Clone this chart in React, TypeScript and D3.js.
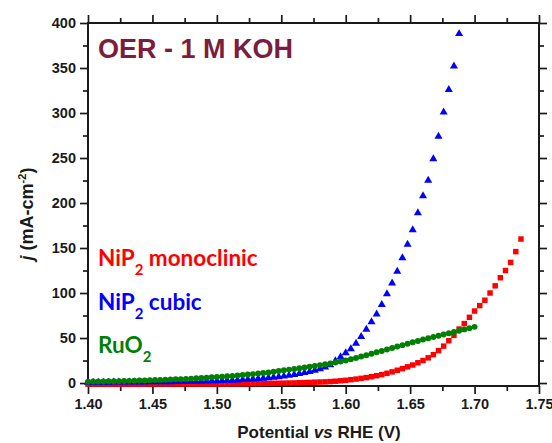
import { useEffect, useRef } from 'react';
import * as d3 from 'd3';

// potential grid (V vs RHE), shared by the three curves
const potential = [
  1.400, 1.404, 1.408, 1.412, 1.416, 1.420, 1.424, 1.428, 1.432, 1.436,
  1.440, 1.444, 1.448, 1.452, 1.456, 1.460, 1.464, 1.468, 1.472, 1.476,
  1.480, 1.484, 1.488, 1.492, 1.496, 1.500, 1.504, 1.508, 1.512, 1.516,
  1.520, 1.524, 1.528, 1.532, 1.536, 1.540, 1.544, 1.548, 1.552, 1.556,
  1.560, 1.564, 1.568, 1.572, 1.576, 1.580, 1.584, 1.588, 1.592, 1.596,
  1.600, 1.604, 1.608, 1.612, 1.616, 1.620, 1.624, 1.628, 1.632, 1.636,
  1.640, 1.644, 1.648, 1.652, 1.656, 1.660, 1.664, 1.668, 1.672, 1.676,
  1.680, 1.684, 1.688, 1.692, 1.696, 1.700, 1.704, 1.708, 1.712, 1.716,
  1.720, 1.724, 1.728, 1.732, 1.736,
];

// current density, mA cm-2
const jMonoclinic = [
  -1.2, -1.2, -1.2, -1.2, -1.2, -1.2, -1.2, -1.2, -1.2, -1.2,
  -1.2, -1.1, -1.1, -1.1, -1.1, -1.1, -1.1, -1.1, -1.1, -1.1,
  -1.1, -1.1, -1.1, -1.1, -1.1, -1.1, -1.0, -1.0, -0.9, -0.9,
  -0.8, -0.8, -0.7, -0.6, -0.5, -0.4, -0.3, -0.2, -0.1, 0.0,
  0.1, 0.3, 0.5, 0.7, 0.9, 1.1, 1.3, 1.6, 2.0, 2.5,
  3.0, 3.7, 4.4, 5.2, 6.0, 7.0, 8.1, 9.3, 10.8, 12.4,
  14.2, 16.0, 18.0, 20.0, 22.5, 25.0, 28.0, 31.5, 36.0, 41.0,
  47.0, 53.0, 60.0, 66.0, 73.0, 80.0, 86.0, 92.0, 100.0, 108.0,
  117.0, 125.0, 134.0, 146.0, 160.0,
];

const jCubic = [
  0.8, 0.8, 0.8, 0.8, 0.8, 0.9, 0.9, 0.9, 0.9, 1.0,
  1.0, 1.0, 1.1, 1.1, 1.2, 1.2, 1.3, 1.4, 1.5, 1.6,
  1.7, 1.8, 1.9, 2.0, 2.2, 2.4, 2.6, 2.8, 3.0, 3.3,
  3.6, 3.9, 4.3, 4.7, 5.2, 5.7, 6.3, 6.9, 7.6, 8.4,
  9.3, 10.3, 11.4, 12.6, 14.0, 15.6, 17.6, 20.0, 24.5, 29.0,
  33.5, 38.0, 44.0, 51.5, 59.5, 68.0, 76.5, 87.0, 99.0, 111.0,
  124.0, 139.0, 154.0, 170.0, 189.0, 208.0, 225.0, 249.0, 274.0, 301.0,
  326.0, 352.0, 388.0,
];

const jRuO2 = [
  1.5, 1.6, 1.7, 1.8, 1.9, 2.0, 2.1, 2.2, 2.4, 2.5,
  2.7, 2.9, 3.1, 3.3, 3.5, 3.7, 3.9, 4.1, 4.3, 4.6,
  4.9, 5.2, 5.5, 5.9, 6.3, 6.7, 7.1, 7.5, 7.9, 8.4,
  8.9, 9.4, 9.9, 10.5, 11.1, 11.8, 12.5, 13.3, 14.1, 14.9,
  15.7, 16.5, 17.3, 18.1, 19.0, 19.9, 20.8, 21.8, 22.8, 23.8,
  25.0, 26.4, 27.9, 29.4, 30.9, 32.5, 34.1, 35.7, 37.3, 38.9,
  40.5, 42.1, 43.7, 45.3, 46.8, 48.3, 49.8, 51.2, 52.6, 54.0,
  55.4, 56.8, 58.2, 59.6, 61.0, 62.4,
];

const xTicks = [1.40, 1.45, 1.50, 1.55, 1.60, 1.65, 1.70, 1.75];
const xMinorTicks = [1.425, 1.475, 1.525, 1.575, 1.625, 1.675, 1.725];
const yTicks = [0, 50, 100, 150, 200, 250, 300, 350, 400];
const yMinorTicks = [25, 75, 125, 175, 225, 275, 325, 375];

const legendLabels = ['monoclinic', 'cubic'];

function App() {
  const ref = useRef<SVGSVGElement>(null);

  useEffect(() => {
    const left = 88, right = 539, top = 23, bottom = 386;

    const svg = d3.select(ref.current);
    svg.selectAll('*').remove();

    const x = d3.scaleLinear().domain([1.40, 1.75]).range([left, right]);
    const y = d3.scaleLinear().domain([-3.3, 400]).range([bottom, top]);

    const axisFont = '"Liberation Sans", Arial, sans-serif';
    const ink = '#1a1a1a';

    const styleAxis = (g: any) => {
      g.select('.domain').remove();
      g.selectAll('line').attr('stroke', ink).attr('stroke-width', 1.7);
      g.selectAll('text')
        .attr('fill', ink)
        .attr('font-family', axisFont)
        .attr('font-weight', 'bold')
        .attr('font-size', 14.5);
    };

    // bottom
    svg.append('g').attr('transform', `translate(0,${bottom})`)
      .call(d3.axisBottom(x).tickValues(xTicks).tickSize(8).tickPadding(5).tickFormat(d3.format('.2f')))
      .call(styleAxis);
    svg.append('g').attr('transform', `translate(0,${bottom})`)
      .call(d3.axisBottom(x).tickValues(xMinorTicks).tickSize(5).tickFormat(() => ''))
      .call(styleAxis);
    // top
    svg.append('g').attr('transform', `translate(0,${top})`)
      .call(d3.axisTop(x).tickValues(xTicks).tickSize(8).tickFormat(() => ''))
      .call(styleAxis);
    svg.append('g').attr('transform', `translate(0,${top})`)
      .call(d3.axisTop(x).tickValues(xMinorTicks).tickSize(5).tickFormat(() => ''))
      .call(styleAxis);
    // left
    svg.append('g').attr('transform', `translate(${left},0)`)
      .call(d3.axisLeft(y).tickValues(yTicks).tickSize(8).tickPadding(4).tickFormat(d3.format('d')))
      .call(styleAxis);
    svg.append('g').attr('transform', `translate(${left},0)`)
      .call(d3.axisLeft(y).tickValues(yMinorTicks).tickSize(5).tickFormat(() => ''))
      .call(styleAxis);
    // right
    svg.append('g').attr('transform', `translate(${right},0)`)
      .call(d3.axisRight(y).tickValues(yTicks).tickSize(8).tickFormat(() => ''))
      .call(styleAxis);
    svg.append('g').attr('transform', `translate(${right},0)`)
      .call(d3.axisRight(y).tickValues(yMinorTicks).tickSize(5).tickFormat(() => ''))
      .call(styleAxis);

    svg.append('rect')
      .attr('x', left).attr('y', top)
      .attr('width', right - left).attr('height', bottom - top)
      .attr('fill', 'none').attr('stroke', ink).attr('stroke-width', 2);

    const series = [
      { values: jMonoclinic, color: '#ff0000', symbol: d3.symbolSquare, size: 30 },
      { values: jCubic, color: '#0000ff', symbol: d3.symbolTriangle, size: 28 },
      { values: jRuO2, color: '#007f00', symbol: d3.symbolCircle, size: 28 },
    ];

    const plot = svg.append('g');
    series.forEach(s => {
      const pts = s.values.map((v, i) => [potential[i], v] as [number, number]);
      plot.append('g')
        .selectAll('path')
        .data(pts)
        .join('path')
        .attr('transform', d => `translate(${x(d[0])},${y(d[1])})`)
        .attr('d', d3.symbol().type(s.symbol).size(s.size)())
        .attr('fill', s.color);
    });

    // title
    svg.append('text')
      .attr('x', 98).attr('y', 58)
      .attr('font-family', axisFont).attr('font-weight', 'bold').attr('font-size', 27)
      .attr('fill', '#7b1e3e')
      .text('OER - 1 M KOH');

    // legend
    const legendFont = 'Lato, "Open Sans", sans-serif';
    const legend = [
      { color: '#ff0000', base: 'NiP', sub: '2', rest: ' ' + legendLabels[0], y: 266 },
      { color: '#0000ff', base: 'NiP', sub: '2', rest: ' ' + legendLabels[1], y: 310 },
      { color: '#007f00', base: 'RuO', sub: '2', rest: '', y: 353 },
    ];
    legend.forEach(l => {
      const t = svg.append('text')
        .attr('x', 98).attr('y', l.y)
        .attr('font-family', legendFont).attr('font-weight', 'bold').attr('font-size', 22.5)
        .attr('fill', l.color);
      t.append('tspan').text(l.base);
      t.append('tspan').attr('font-size', 15).attr('dy', 9).text(l.sub);
      t.append('tspan').attr('dy', -9).text(l.rest);
    });

    // x axis title
    const xt = svg.append('text')
      .attr('x', 319).attr('y', 438)
      .attr('text-anchor', 'middle')
      .attr('font-family', axisFont).attr('font-weight', 'bold').attr('font-size', 17)
      .attr('fill', ink);
    xt.append('tspan').text('Potential ');
    xt.append('tspan').attr('font-style', 'italic').text('vs');
    xt.append('tspan').text(' RHE (V)');

    // y axis title
    const yt = svg.append('text')
      .attr('transform', `translate(33,${214}) rotate(-90)`)
      .attr('text-anchor', 'middle')
      .attr('font-family', axisFont).attr('font-weight', 'bold').attr('font-size', 18)
      .attr('fill', ink);
    yt.append('tspan').attr('font-style', 'italic').text('j');
    yt.append('tspan').text(' (mA-cm');
    yt.append('tspan').attr('font-size', 11).attr('dy', -7).text('-2');
    yt.append('tspan').attr('dy', 7).text(')');
  }, []);

  return (
    <svg
      ref={ref}
      width={552}
      height={443}
      style={{ position: 'absolute', left: 0, top: 0, background: '#fff' }}
    />
  );
}

export default App;
